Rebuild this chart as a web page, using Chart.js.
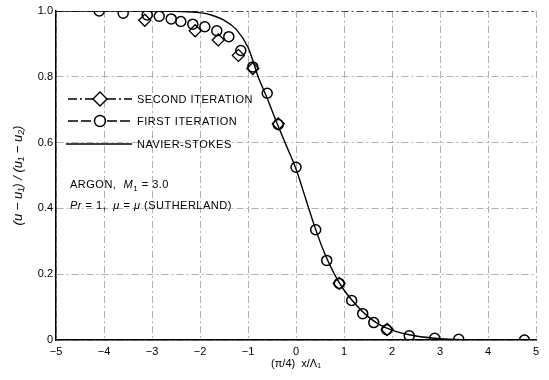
<!DOCTYPE html>
<html><head><meta charset="utf-8">
<script src="https://cdn.jsdelivr.net/npm/chart.js@4/dist/chart.umd.min.js"></script>
<style>html,body{margin:0;padding:0;background:#fff}#wrap{width:549px;height:380px}</style>
</head><body><div id="wrap"><canvas id="c" width="549" height="380"></canvas></div>
<script>
// ---- data ----
const xTicks = [-5, -4, -3, -2, -1, 0, 1, 2, 3, 4, 5];
const yTicks = [0, 0.2, 0.4, 0.6, 0.8, 1.0];
const seriesLabels = ['SECOND ITERATION', 'FIRST ITERATION', 'NAVIER-STOKES'];
const xTitle = '(π/4)  x/Λ₁';
const yTitle = '(u − u₁) / (u₁ − u₂)';

// Navier-Stokes solution (solid line)
const nsX = [-5, -3, -2.5, -2.0, -1.75, -1.5, -1.25, -1.0, -0.9, -0.8, -0.6, -0.4, -0.2, 0, 0.2, 0.4, 0.6, 0.8, 1.0, 1.25, 1.5, 1.75, 2.0, 2.5, 3.0, 3.5, 4, 5];
const nsY = [1, 1, 0.999, 0.995, 0.987, 0.972, 0.945, 0.89, 0.85, 0.805, 0.735, 0.66, 0.59, 0.52, 0.43, 0.34, 0.262, 0.2, 0.152, 0.107, 0.071, 0.046, 0.03, 0.012, 0.004, 0.001, 0, 0];

// First iteration (circles)
const firstX = [-4.1, -3.6, -3.1, -2.85, -2.6, -2.4, -2.15, -1.9, -1.65, -1.4, -1.15, -0.9, -0.6, -0.37, 0, 0.41, 0.64, 0.9, 1.16, 1.39, 1.62, 1.89, 2.36, 2.89, 3.39, 4.76];
const firstY = [1.0, 0.993, 0.988, 0.984, 0.976, 0.968, 0.96, 0.952, 0.94, 0.922, 0.88, 0.83, 0.75, 0.655, 0.525, 0.335, 0.242, 0.172, 0.12, 0.08, 0.053, 0.031, 0.013, 0.005, 0.002, 0.0];

// Second iteration (diamonds)
const secondX = [-3.15, -2.1, -1.62, -1.2, -0.9, -0.37, 0.9, 1.9];
const secondY = [0.972, 0.94, 0.912, 0.865, 0.825, 0.657, 0.172, 0.032];

const noteLines = [
  [{t: 'ARGON,  '}, {t: 'M', i: true}, {t: '1', sub: true}, {t: ' = 3.0'}],
  [{t: 'Pr', i: true}, {t: ' = 1,  '}, {t: 'μ', i: true}, {t: ' = '}, {t: 'μ', i: true}, {t: ' (SUTHERLAND)'}]
];

const zip = (xs, ys) => xs.map((x, k) => ({x: x, y: ys[k]}));
const FONT = "'Liberation Sans', Arial, sans-serif";

const legendPlugin = {
  id: 'inlineLegend',
  afterDatasetsDraw(chart) {
    const ctx = chart.ctx;
    const a = chart.chartArea;
    const x0 = a.left + 12, x1 = a.left + 76, xm = a.left + 44, xt = a.left + 81;
    const rows = [a.top + 88, a.top + 110, a.top + 133];
    const dashes = [[9, 3, 2, 3], [10, 3], []];
    const styles = ['rectRot', 'circle', null];
    ctx.save();
    ctx.font = '11px ' + FONT;
    ctx.letterSpacing = '0.5px';
    ctx.textBaseline = 'middle';
    ctx.fillStyle = '#000';
    for (let k = 0; k < 3; k++) {
      const y = rows[k];
      ctx.strokeStyle = '#000';
      ctx.lineWidth = 1.4;
      ctx.setLineDash(dashes[k]);
      ctx.beginPath();
      if (styles[k]) {
        ctx.moveTo(x0, y); ctx.lineTo(xm - 7, y);
        ctx.moveTo(xm + 7, y); ctx.lineTo(x1, y);
      } else {
        ctx.moveTo(x0 - 2, y); ctx.lineTo(x1, y);
      }
      ctx.stroke();
      ctx.setLineDash([]);
      if (styles[k] === 'circle') {
        ctx.beginPath(); ctx.arc(xm, y, 5.5, 0, Math.PI * 2); ctx.stroke();
      } else if (styles[k] === 'rectRot') {
        ctx.beginPath(); ctx.moveTo(xm, y - 7); ctx.lineTo(xm + 7, y); ctx.lineTo(xm, y + 7); ctx.lineTo(xm - 7, y); ctx.closePath(); ctx.stroke();
      }
      ctx.fillText(seriesLabels[k], xt, y + 1);
    }
    // notes
    const ny = [a.top + 174, a.top + 195];
    noteLines.forEach((segs, j) => {
      let x = a.left + 14;
      segs.forEach(s => {
        if (s.sub) {
          ctx.font = '8px ' + FONT;
          ctx.fillText(s.t, x, ny[j] + 4);
        } else {
          ctx.font = (s.i ? 'italic ' : '') + '11px ' + FONT;
          ctx.fillText(s.t, x, ny[j]);
        }
        x += ctx.measureText(s.t).width;
      });
    });
    ctx.restore();
  }
};

new Chart(document.getElementById('c'), {
  type: 'scatter',
  data: {
    datasets: [
      {label: seriesLabels[2], data: zip(nsX, nsY), showLine: true, borderColor: '#000', borderWidth: 1.4,
       pointRadius: 0, cubicInterpolationMode: 'monotone', fill: false},
      {label: seriesLabels[1], data: zip(firstX, firstY), showLine: false, pointStyle: 'circle', pointRadius: 5,
       borderColor: '#000', backgroundColor: 'rgba(0,0,0,0)', pointBorderWidth: 1.5},
      {label: seriesLabels[0], data: zip(secondX, secondY), showLine: false, pointStyle: 'rectRot', pointRadius: 6,
       borderColor: '#000', backgroundColor: 'rgba(0,0,0,0)', pointBorderWidth: 1.3}
    ]
  },
  options: {
    responsive: false, animation: false, devicePixelRatio: 1,
    layout: {padding: {left: 0, right: 13, top: 11, bottom: 0}},
    plugins: {legend: {display: false}, tooltip: {enabled: false}},
    scales: {
      x: {
        type: 'linear', min: -5, max: 5,
        afterBuildTicks: s => { s.ticks = xTicks.map(v => ({value: v})); },
        afterFit: s => { s.height = 40; },
        ticks: {color: '#000', padding: 5, font: {family: FONT, size: 11},
                callback: v => String(v).replace('-', '−')},
        grid: {color: '#b0b0b0', lineWidth: 1, drawTicks: false},
        border: {display: true, color: '#000', width: 1.5, dash: [7, 3, 2, 3]},
        title: {display: true, text: xTitle, color: '#000', font: {family: FONT, size: 11},
                padding: {top: 0, bottom: 9}}
      },
      y: {
        type: 'linear', min: 0, max: 1,
        afterBuildTicks: s => { s.ticks = yTicks.map(v => ({value: v})); },
        afterFit: s => { s.width = 56; },
        ticks: {color: '#000', padding: 3, font: {family: FONT, size: 11},
                callback: v => v === 0 ? '0' : v.toFixed(1)},
        grid: {color: ctx => (ctx.tick && ctx.tick.value === 1) ? '#444' : '#b0b0b0', lineWidth: 1, drawTicks: false},
        border: {display: true, color: '#000', width: 1.5, dash: [7, 3, 2, 3]},
        title: {display: true, text: yTitle, color: '#000', font: {family: FONT, size: 13, style: 'italic'},
                padding: {top: 11, bottom: 0}}
      }
    }
  },
  plugins: [legendPlugin]
});
</script>
</body></html>
